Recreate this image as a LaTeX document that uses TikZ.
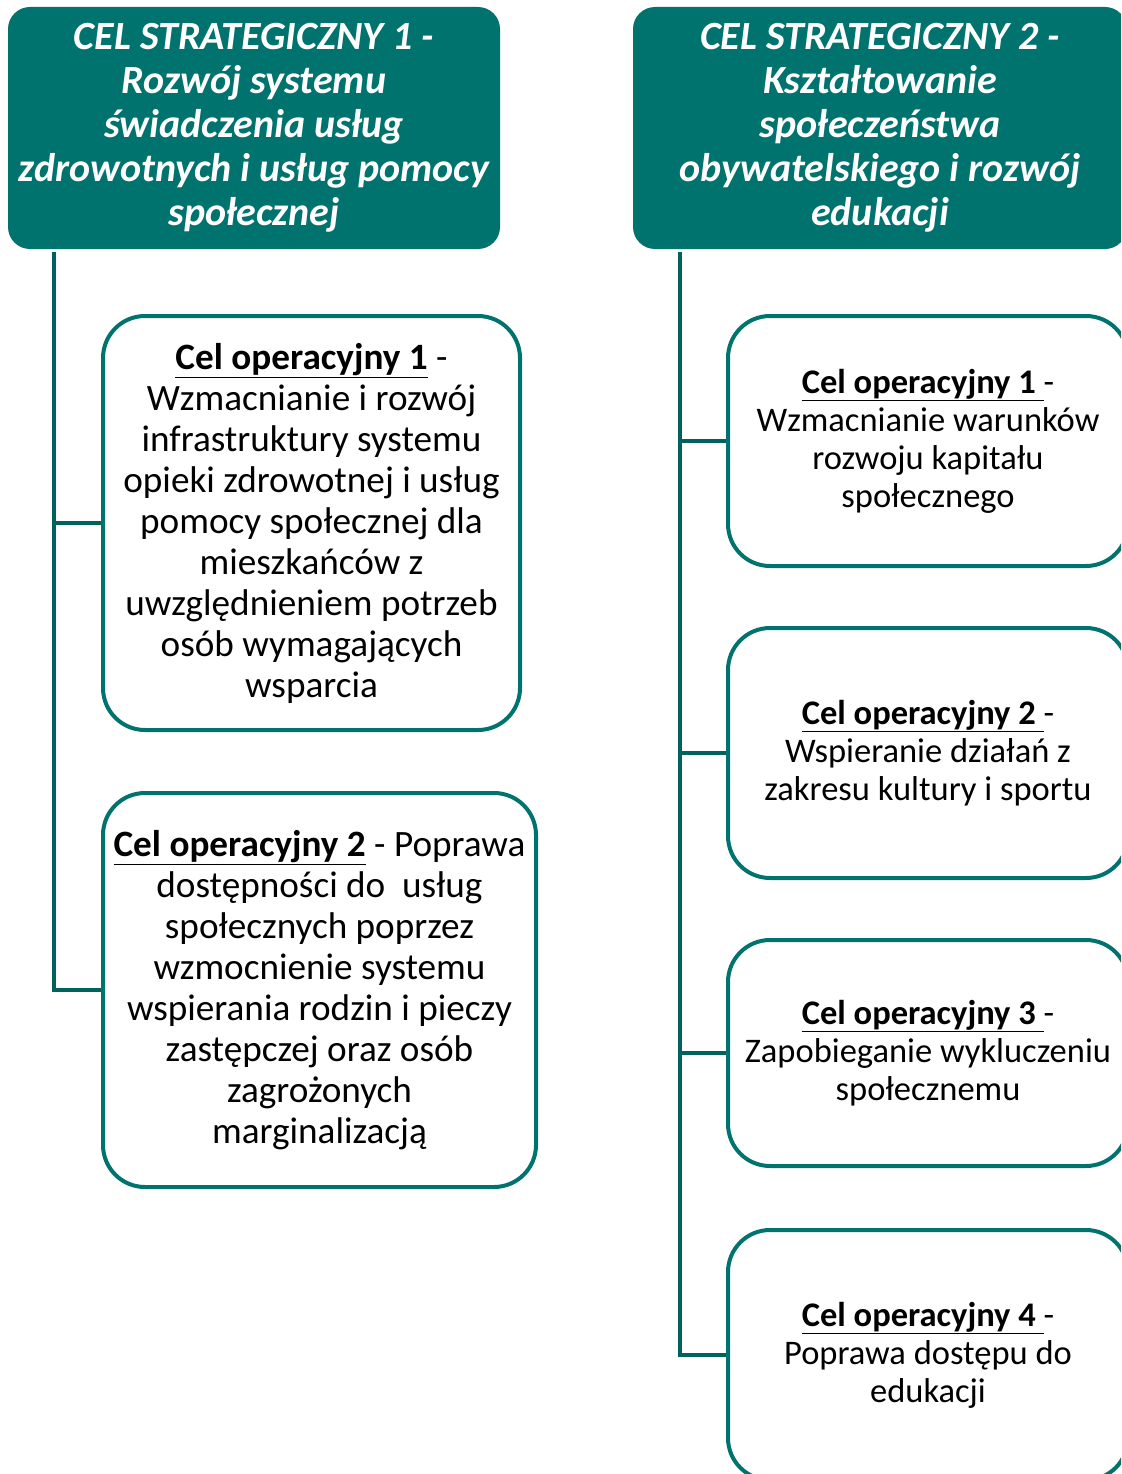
\documentclass[tikz,border=0pt]{standalone}
\usepackage{fontspec}
\setmainfont{Carlito}
\usepackage{tikz}
\usetikzlibrary{calc}
\definecolor{celteal}{HTML}{00736E}
\definecolor{celline}{HTML}{00625C}

\begin{document}
\begin{tikzpicture}[x=1pt,y=-1pt,
  strat/.style={shape=rectangle,fill=celteal,rounded corners=22pt,text=white,align=center,font=\fontsize{40}{44}\selectfont\bfseries\itshape,inner sep=0pt},
  oper/.style={shape=rectangle,draw=celteal,line width=4pt,rounded corners=42pt,fill=white,align=center,inner sep=0pt},
  conn/.style={draw=celline,line width=4pt}]
\useasboundingbox (0,0) rectangle (1121,1474);
\clip (0,0) rectangle (1121,1474);
\draw (254,128) node (cs1) [strat,minimum width=492pt,minimum height=242pt] {CEL STRATEGICZNY 1 -\\Rozwój systemu\\świadczenia usług\\zdrowotnych i usług pomocy\\społecznej};
\draw (880,128) node (cs2) [strat,minimum width=494pt,minimum height=242pt] {CEL STRATEGICZNY 2 -\\Kształtowanie\\społeczeństwa\\obywatelskiego i rozwój\\edukacji};
\draw (311.5,523) node (co11) [oper,minimum width=417pt,minimum height=414pt,font=\fontsize{37.2}{41}\selectfont] {\underline{\textbf{Cel operacyjny 1}} -\\Wzmacnianie i rozwój\\infrastruktury systemu\\opieki zdrowotnej i usług\\pomocy społecznej dla\\mieszkańców z\\uwzględnieniem potrzeb\\osób wymagających\\wsparcia};
\draw (319.5,990) node (co12) [oper,minimum width=433pt,minimum height=394pt,font=\fontsize{37.2}{41}\selectfont] {\underline{\textbf{Cel operacyjny 2}} - Poprawa\\dostępności do\ \ usług\\społecznych poprzez\\wzmocnienie systemu\\wspierania rodzin i pieczy\\zastępczej oraz osób\\zagrożonych\\marginalizacją};
\draw (928,441) node (co21) [oper,minimum width=400pt,minimum height=250pt,font=\fontsize{34.5}{38}\selectfont] {\underline{\textbf{Cel operacyjny 1 }}-\\Wzmacnianie warunków\\rozwoju kapitału\\społecznego};
\draw (928,753) node (co22) [oper,minimum width=400pt,minimum height=250pt,font=\fontsize{34.5}{38}\selectfont] {\underline{\textbf{Cel operacyjny 2 }}-\\Wspieranie działań z\\zakresu kultury i sportu};
\draw (928,1053) node (co23) [oper,minimum width=400pt,minimum height=226pt,font=\fontsize{34.5}{38}\selectfont] {\underline{\textbf{Cel operacyjny 3 }}-\\Zapobieganie wykluczeniu\\społecznemu};
\draw (928,1355) node (co24) [oper,minimum width=400pt,minimum height=250pt,font=\fontsize{34.5}{38}\selectfont] {\underline{\textbf{Cel operacyjny 4 }}-\\Poprawa dostępu do\\edukacji};
\draw[conn] ([xshift=46pt,yshift=-3pt]cs1.south west) |- (co11.west);
\draw[conn] ([xshift=46pt,yshift=-3pt]cs1.south west) |- (co12.west);
\draw[conn] ([xshift=47pt,yshift=-3pt]cs2.south west) |- (co21.west);
\draw[conn] ([xshift=47pt,yshift=-3pt]cs2.south west) |- (co22.west);
\draw[conn] ([xshift=47pt,yshift=-3pt]cs2.south west) |- (co23.west);
\draw[conn] ([xshift=47pt,yshift=-3pt]cs2.south west) |- (co24.west);
\end{tikzpicture}
\end{document}
